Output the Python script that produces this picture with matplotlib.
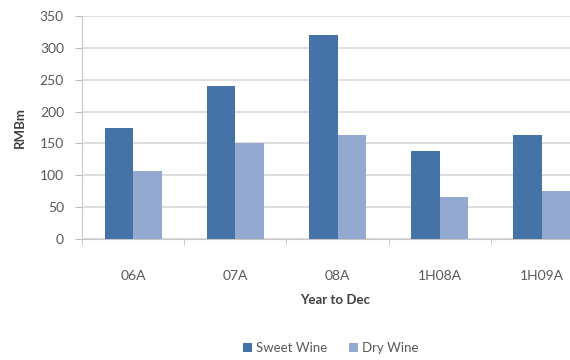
import matplotlib.pyplot as plt
import numpy as np

# data
periods = ['06A', '07A', '08A', '1H08A', '1H09A']
sweet_wine = [174, 240, 320, 138, 164]
dry_wine = [107, 150, 163, 66, 75]


def main():
    plt.rcParams['font.family'] = ['Lato', 'DejaVu Sans']

    fig = plt.figure(figsize=(5.7, 3.6), dpi=100)
    # axes runs past the right edge, as in the reference (clipped chart)
    ax = fig.add_axes([0.1439, 0.3361, 0.8965, 0.6194])

    x = np.arange(len(periods))
    w = 0.28
    ax.bar(x - w / 2, sweet_wine, w, color='#4572A7', label='Sweet Wine', zorder=3)
    ax.bar(x + w / 2, dry_wine, w, color='#93A9CF', label='Dry Wine', zorder=3)

    ax.set_xlim(-0.5, len(periods) - 0.5)
    ax.set_ylim(0, 350)
    ax.set_yticks(range(0, 351, 50))
    ax.yaxis.grid(True, color='#d4d4d4', lw=1.1, zorder=0)

    # category labels at centers, tick marks at boundaries
    ax.set_xticks(x)
    ax.set_xticklabels(periods)
    ax.set_xticks(np.arange(-0.5, len(periods), 1), minor=True)
    ax.tick_params(axis='x', which='major', length=0, pad=22,
                   labelsize=10, labelcolor='#595959')
    ax.tick_params(axis='x', which='minor', length=4, color='#bfbfbf')
    ax.tick_params(axis='y', length=5, color='#bfbfbf', pad=8,
                   labelsize=10, labelcolor='#595959')

    for side in ['top', 'right']:
        ax.spines[side].set_visible(False)
    for side in ['left', 'bottom']:
        ax.spines[side].set_color('#c8c8c8')

    ax.set_ylabel('RMBm', fontsize=9.5, fontweight='bold', color='#404040', labelpad=10)
    fig.text(0.588, 1 - 300 / 360, 'Year to Dec', ha='center', va='center',
             fontsize=9.5, fontweight='bold', color='#404040')

    fig.legend(loc='center', bbox_to_anchor=(0.58, 1 - 348 / 360), ncol=2,
               frameon=False, fontsize=9.5, labelcolor='#595959',
               handlelength=0.7, handleheight=0.7, handletextpad=0.3,
               columnspacing=1.6)

    plt.savefig('out.png', dpi=100)


if __name__ == '__main__':
    main()
